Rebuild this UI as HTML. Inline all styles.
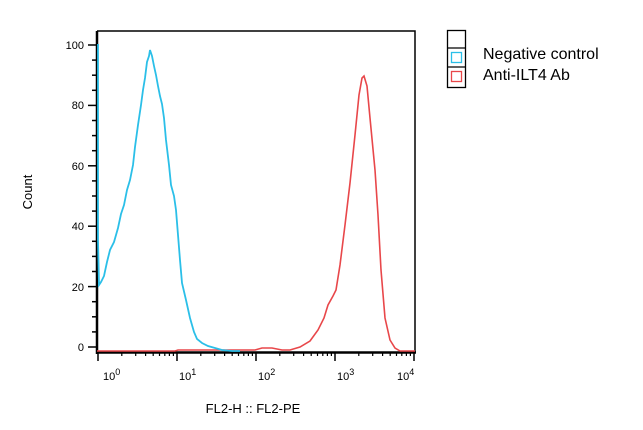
<!DOCTYPE html>
<html><head><meta charset="utf-8"><style>
html,body{margin:0;padding:0;background:#fff;}
svg{display:block;}
</style></head><body>
<svg width="643" height="430" viewBox="0 0 643 430" xmlns="http://www.w3.org/2000/svg">
<rect width="643" height="430" fill="#fff"/>
<path d="M97,31 H415 V352" fill="none" stroke="#000" stroke-width="1.5"/>
<line x1="97" y1="31" x2="97" y2="354" stroke="#000" stroke-width="2.5"/>
<line x1="96" y1="352.5" x2="416" y2="352.5" stroke="#000" stroke-width="2.5"/>
<g stroke="#000" stroke-width="1.5">
<line x1="88" y1="45" x2="97" y2="45"/><line x1="88" y1="105.4" x2="97" y2="105.4"/>
<line x1="88" y1="165.8" x2="97" y2="165.8"/><line x1="88" y1="226.2" x2="97" y2="226.2"/>
<line x1="88" y1="286.6" x2="97" y2="286.6"/><line x1="88" y1="347" x2="97" y2="347"/>
<line x1="92" y1="75.2" x2="97" y2="75.2"/><line x1="92" y1="135.6" x2="97" y2="135.6"/>
<line x1="92" y1="196" x2="97" y2="196"/><line x1="92" y1="256.4" x2="97" y2="256.4"/>
<line x1="92" y1="316.8" x2="97" y2="316.8"/>
<line x1="92" y1="60.1" x2="97" y2="60.1"/><line x1="92" y1="90.3" x2="97" y2="90.3"/>
<line x1="92" y1="120.5" x2="97" y2="120.5"/><line x1="92" y1="150.7" x2="97" y2="150.7"/>
<line x1="92" y1="180.9" x2="97" y2="180.9"/><line x1="92" y1="211.1" x2="97" y2="211.1"/>
<line x1="92" y1="241.3" x2="97" y2="241.3"/><line x1="92" y1="271.5" x2="97" y2="271.5"/>
<line x1="92" y1="301.7" x2="97" y2="301.7"/><line x1="92" y1="331.9" x2="97" y2="331.9"/>
</g>
<g font-family="Liberation Sans, sans-serif" font-size="11" text-anchor="end" fill="#000">
<text x="84" y="49">100</text><text x="84" y="109">80</text><text x="84" y="170">60</text>
<text x="84" y="230">40</text><text x="84" y="291">20</text><text x="84" y="351">0</text>
</g>
<g stroke="#000" stroke-width="1.5">
<line x1="98" y1="352" x2="98" y2="361"/><line x1="177" y1="352" x2="177" y2="361"/>
<line x1="256" y1="352" x2="256" y2="361"/><line x1="335" y1="352" x2="335" y2="361"/>
<line x1="414" y1="352" x2="414" y2="361"/>
</g>
<g stroke="#000" stroke-width="1.2">
<path d="
M121.8,352v4M135.7,352v4M145.6,352v4M153.2,352v4M159.5,352v4M164.8,352v4M169.4,352v4M173.4,352v4
M200.8,352v4M214.7,352v4M224.6,352v4M232.2,352v4M238.5,352v4M243.8,352v4M248.4,352v4M252.4,352v4
M279.8,352v4M293.7,352v4M303.6,352v4M311.2,352v4M317.5,352v4M322.8,352v4M327.4,352v4M331.4,352v4
M358.8,352v4M372.7,352v4M382.6,352v4M390.2,352v4M396.5,352v4M401.8,352v4M406.4,352v4M410.4,352v4"/>
</g>
<g font-family="Liberation Sans, sans-serif" font-size="11" fill="#000">
<text x="103" y="380">10<tspan font-size="9" dy="-5">0</tspan></text>
<text x="179" y="380">10<tspan font-size="9" dy="-5">1</tspan></text>
<text x="258" y="380">10<tspan font-size="9" dy="-5">2</tspan></text>
<text x="337" y="380">10<tspan font-size="9" dy="-5">3</tspan></text>
<text x="397" y="380">10<tspan font-size="9" dy="-5">4</tspan></text>
<text x="253" y="413" text-anchor="middle" font-size="13">FL2-H :: FL2-PE</text>
<text transform="translate(32,192) rotate(-90)" text-anchor="middle" font-size="13">Count</text>
</g>
<polyline fill="none" stroke="#e8474a" stroke-width="1.6" points="97,351 175,351 178,350 230,350 255,350 262,348 272,348 282,350 290,350 300,347 310,341 318,330 324,318 328,305 333,296 336,290 340,265 345,225 350,183 355,135 359,95 362,78 364,76 367,86 370,118 375,170 378,215 381,270 385,318 390,340 395,348 400,351 415,351"/>
<polyline fill="none" stroke="#2bbfe8" stroke-width="1.8" points="98,44 98,240 99,285 101,282 104,276 107,262 110,250 114,242 118,228 121,214 124,205 127,190 130,180 133,165 135,147 138,125 141,105 143,90 145,78 147,62 149,56 150,50 152,56 154,66 156,75 158,86 160,96 162,104 164,118 166,140 169,165 171,185 174,196 176,210 178,235 180,260 182,283 186,300 190,318 194,332 197,339 202,343 208,346 215,348 222,350 232,351 240,351"/>
<g stroke="#000" stroke-width="1.3" fill="none">
<rect x="447.5" y="30.5" width="18" height="57"/>
<line x1="447.5" y1="48" x2="465.5" y2="48"/>
<line x1="447.5" y1="67" x2="465.5" y2="67"/>
</g>
<rect x="451.5" y="52.5" width="10" height="10" fill="none" stroke="#2bbfe8" stroke-width="1.3"/>
<rect x="451.5" y="71.5" width="10" height="10" fill="none" stroke="#e8474a" stroke-width="1.3"/>
<g font-family="Liberation Sans, sans-serif" font-size="16" fill="#000">
<text x="483" y="59">Negative control</text>
<text x="483" y="80">Anti-ILT4 Ab</text>
</g>
</svg>
</body></html>
